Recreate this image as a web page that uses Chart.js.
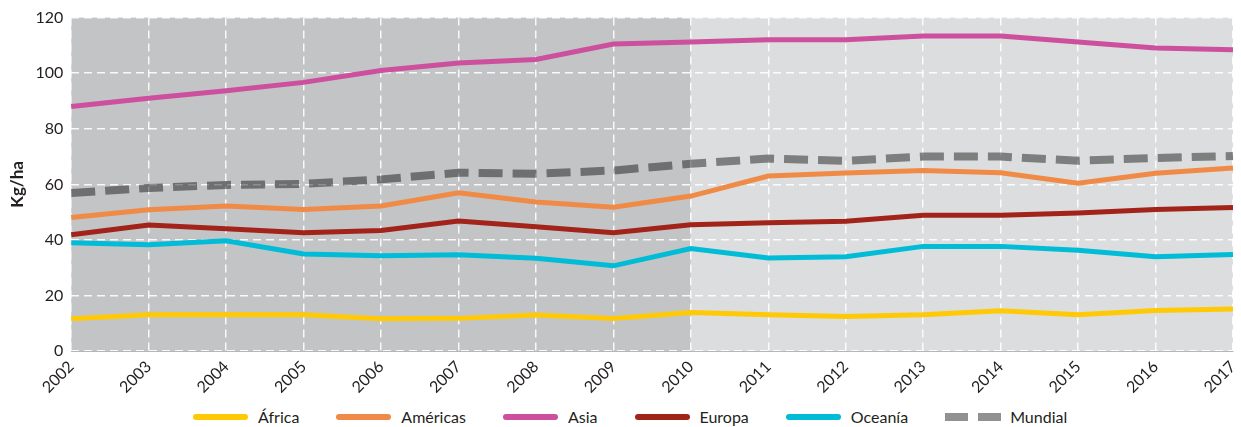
<!DOCTYPE html>
<html>
<head>
<meta charset="utf-8">
<script src="https://cdn.jsdelivr.net/npm/chart.js@4/dist/chart.umd.min.js"></script>
<style>
    html, body { margin: 0; padding: 0; background: #fff; }
    #wrap { position: relative; width: 1241px; height: 403px; }
    #legend {
        display: flex; justify-content: flex-start; align-items: center;
        position: absolute; top: 407px; left: 193px;
        font-family: Lato, "Open Sans", sans-serif; font-size: 16px; color: #231f20;
    }
    .item { display: flex; align-items: center; margin-right: 37px; }
    .swatch { width: 55px; height: 6px; border-radius: 3px; margin-right: 10px; }
    .dash { display: flex; margin-right: 9px; }
    .dash span { width: 23px; height: 8px; background: rgba(0,0,0,0.43); }
    .dash span + span { margin-left: 10px; }
</style>
</head>
<body>
<div id="wrap"><canvas id="fertilizer-chart" width="1241" height="403"></canvas></div>
<div id="legend"></div>
<script>
// Kg/ha por región, 2002-2017

const years = ["2002", "2003", "2004", "2005", "2006", "2007", "2008", "2009",
    "2010", "2011", "2012", "2013", "2014", "2015", "2016", "2017"];

const africa =   [11.7, 13.1, 13.1, 13.1, 11.7, 11.8, 13.0, 11.8, 13.9, 13.1, 12.5, 13.1, 14.5, 13.1, 14.6, 15.2];
const americas = [48.1, 50.9, 52.2, 51.0, 52.2, 57.0, 53.7, 51.8, 55.8, 63.0, 64.1, 65.0, 64.2, 60.4, 64.0, 65.9];
const asia =     [88.0, 91.0, 93.7, 96.7, 101.0, 103.7, 104.9, 110.5, 111.2, 112.0, 112.0, 113.4, 113.4, 111.2, 109.1, 108.4];
const europa =   [41.9, 45.4, 44.0, 42.6, 43.4, 46.8, 44.8, 42.6, 45.5, 46.2, 46.7, 48.9, 48.9, 49.7, 51.0, 51.7];
const oceania =  [39.0, 38.3, 39.7, 35.0, 34.3, 34.7, 33.4, 30.7, 36.9, 33.5, 34.0, 37.7, 37.7, 36.3, 34.0, 34.8];
const mundial =  [56.9, 58.7, 59.8, 60.2, 61.8, 64.2, 63.8, 65.0, 67.4, 69.3, 68.5, 70.0, 70.0, 68.5, 69.5, 70.2];

const yTicks = [0, 20, 40, 60, 80, 100, 120];
const splitYear = "2010";

const series = [
    { label: "África", data: africa, color: "#ffc906" },
    { label: "Américas", data: americas, color: "#f08b47" },
    { label: "Asia", data: asia, color: "#cc509e" },
    { label: "Europa", data: europa, color: "#a2231a" },
    { label: "Oceanía", data: oceania, color: "#00bcd6" },
    { label: "Mundial", data: mundial, color: "rgba(0,0,0,0.43)", dashed: true },
];

// two-tone background behind the plot
const bgPlugin = {
    id: "bgShade",
    beforeDraw(chart) {
        const { ctx, chartArea, scales } = chart;
        const xs = scales.x.getPixelForValue(years.indexOf(splitYear));
        ctx.save();
        ctx.fillStyle = "#c3c4c6";
        ctx.fillRect(chartArea.left, chartArea.top, xs - chartArea.left, chartArea.bottom - chartArea.top);
        ctx.fillStyle = "#dcddde";
        ctx.fillRect(xs, chartArea.top, chartArea.right - xs, chartArea.bottom - chartArea.top);
        ctx.restore();
    },
};

const font = { family: "Lato, 'Open Sans', sans-serif", size: 16 };

var ctx = document.getElementById("fertilizer-chart").getContext("2d");

var chart = new Chart(ctx, {
    type: "line",
    data: {
        labels: years,
        datasets: series.map((s) => ({
            label: s.label,
            data: s.data,
            borderColor: s.color,
            borderWidth: s.dashed ? 8 : 5,
            borderDash: s.dashed ? [24, 10] : [],
            pointRadius: 0,
            tension: 0,
            fill: false,
        })),
    },
    options: {
        responsive: false,
        animation: false,
        layout: { padding: { top: 9, right: 8, left: 7, bottom: 0 } },
        plugins: { legend: { display: false }, tooltip: { enabled: false } },
        scales: {
            x: {
                offset: false,
                afterFit: (scale) => { scale.paddingRight = 0; },
                grid: { color: "rgba(255,255,255,0.9)", lineWidth: 1.5, drawTicks: false },
                border: { display: true, color: "#b5b6b8", width: 1, dash: [8, 5] },
                ticks: { font: font, color: "#231f20", maxRotation: 45, minRotation: 45, padding: 6 },
            },
            y: {
                min: 0,
                max: 120,
                afterBuildTicks: (axis) => { axis.ticks = yTicks.map((v) => ({ value: v })); },
                grid: { color: "rgba(255,255,255,0.9)", lineWidth: 1.5, drawTicks: false },
                border: { display: false, dash: [8, 5] },
                ticks: { font: font, color: "#231f20", padding: 8 },
                title: { display: true, text: "Kg/ha", font: { ...font, size: 17, weight: "bold" }, color: "#231f20", padding: { top: 0, bottom: 0 } },
            },
        },
    },
    plugins: [bgPlugin],
});

// legend
const legend = document.getElementById("legend");
series.forEach((s) => {
    const item = document.createElement("div");
    item.className = "item";
    if (s.dashed) {
        item.innerHTML = '<div class="dash"><span></span><span></span></div>';
    } else {
        item.innerHTML = '<div class="swatch" style="background:' + s.color + '"></div>';
    }
    const txt = document.createElement("span");
    txt.textContent = s.label;
    item.appendChild(txt);
    legend.appendChild(item);
});
</script>
</body>
</html>
